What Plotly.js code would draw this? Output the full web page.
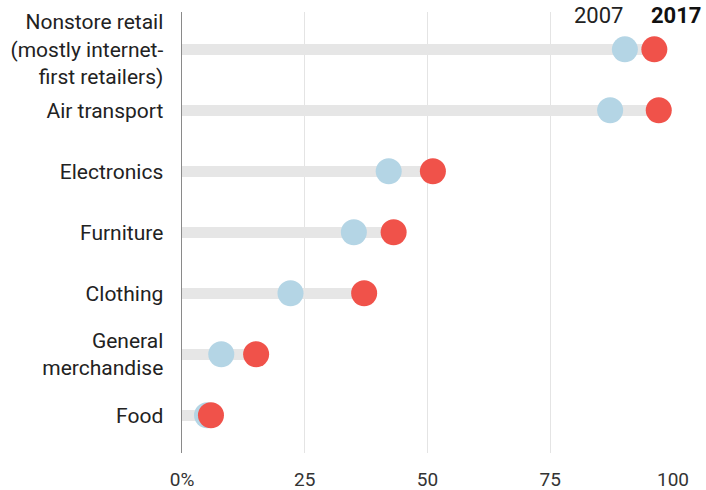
<!DOCTYPE html>
<html>
<head>
<meta charset="utf-8">
<script src="https://cdn.plot.ly/plotly-3.0.1.min.js"></script>
<style>html,body{margin:0;padding:0;background:#fff;}#chart{width:706px;height:490px;}</style>
</head>
<body>
<div id="chart"></div>
<script>
const categories = [
  "Nonstore retail<br>(mostly internet-<br>first retailers)",
  "Air transport",
  "Electronics",
  "Furniture",
  "Clothing",
  "General<br>merchandise",
  "Food"
];
const share2007 = [90.2, 87.2, 42.1, 35.0, 22.1, 8.0, 5.1];
const share2017 = [96.2, 97.1, 51.1, 43.1, 37.1, 15.1, 5.9];
const xTickVals = [0, 25, 50, 75, 100];
const xTickText = ["0%", "25", "50", "75", "100"];
const seriesNames = ["2007", "2017"];

const FONT = 'Roboto, "Liberation Sans", sans-serif';
const barMax = share2007.map((v, i) => Math.max(v, share2017[i]));

const traces = [
  {
    type: 'bar', orientation: 'h',
    x: barMax, y: categories, base: 0,
    width: 0.18,
    marker: {color: '#e6e6e6', line: {width: 0}},
    hoverinfo: 'skip', showlegend: false
  },
  {
    type: 'scatter', mode: 'markers', name: seriesNames[0],
    x: share2007, y: categories,
    marker: {size: 26, color: '#b4d5e5', line: {width: 0}},
    cliponaxis: false, showlegend: false
  },
  {
    type: 'scatter', mode: 'markers', name: seriesNames[1],
    x: share2017, y: categories,
    marker: {size: 26, color: '#f0524a', line: {width: 0}},
    cliponaxis: false, showlegend: false
  }
];

const layout = {
  width: 706, height: 490,
  margin: {l: 182, r: 33, t: 12, b: 37, pad: 0},
  paper_bgcolor: '#fff', plot_bgcolor: '#fff',
  font: {family: FONT, color: '#222', size: 20},
  showlegend: false,
  bargap: 0,
  xaxis: {
    range: [0, 100], autorange: false,
    tickvals: xTickVals, ticktext: xTickText,
    showgrid: true, gridcolor: '#e4e4e4', gridwidth: 1,
    zeroline: false, showline: false,
    ticks: 'outside', ticklen: 9, tickcolor: 'rgba(0,0,0,0)',
    tickfont: {family: FONT, size: 19, color: '#333'},
    fixedrange: true
  },
  yaxis: {
    type: 'category', categoryorder: 'array', categoryarray: categories,
    range: [6.62, -0.612], autorange: false,
    showgrid: false, zeroline: false,
    showline: true, linecolor: '#8a8a8a', linewidth: 1.5,
    ticks: 'outside', ticklen: 13, tickcolor: 'rgba(0,0,0,0)',
    tickfont: {family: FONT, size: 21, color: '#222'},
    fixedrange: true
  },
  annotations: [
    {text: seriesNames[0], xref: 'paper', yref: 'paper', x: (598.5 - 182) / 491, y: 0.991,
     xanchor: 'center', yanchor: 'middle', showarrow: false,
     font: {family: FONT, size: 22, color: '#222'}},
    {text: '<b>' + seriesNames[1] + '</b>', xref: 'paper', yref: 'paper', x: (676.7 - 182) / 491, y: 0.991,
     xanchor: 'center', yanchor: 'middle', showarrow: false,
     font: {family: FONT, size: 22, color: '#111'}}
  ]
};

Plotly.newPlot('chart', traces, layout, {displayModeBar: false, staticPlot: true});
</script>
</body>
</html>
